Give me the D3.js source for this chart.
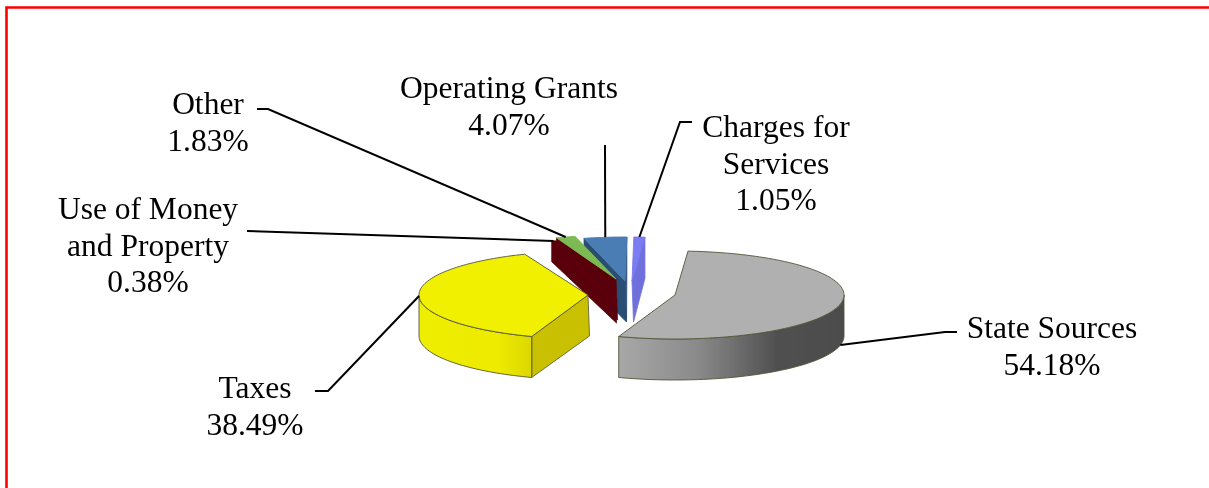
<!DOCTYPE html>
<html><head><meta charset="utf-8">
<script src="https://cdnjs.cloudflare.com/ajax/libs/d3/7.8.5/d3.min.js"></script>
<style>html,body{margin:0;padding:0;background:#fff;overflow:hidden}svg{display:block}</style>
</head><body><svg id="c" width="1209" height="488"></svg>
<script>
// ---- data ----
const categories = ["State Sources","Taxes","Use of Money and Property","Other","Operating Grants","Charges for Services"];
const values = [54.18,38.49,0.38,1.83,4.07,1.05];
const valueLabels = ["54.18%","38.49%","0.38%","1.83%","4.07%","1.05%"];
// ---- style / layout config ----
const labelLines = [["State Sources"],["Taxes"],["Use of Money","and Property"],["Other"],["Operating Grants"],["Charges for","Services"]];
const labelAnchor = [[1052,338],[255,398],[148,219],[208,114],[509,98],[776,137]];
const elbows = [[[945,332],[957,332]],[[328,391],[315,391]],[[247,231]],[[268,109],[257,109]],[[605,145]],[[680,122],[692,122]]];
const topColor = ["#b0b0b0","#f0f000","#5a0008","#7cba52","#4a7db3","#7b7bf2"];
const wallColor = ["#888","#c8c000","#5a0008","#5a0008","#2b4e75","#6f70dc"];
const explodeDx = [50,-37,-10,-9,0,7];
const explodeDy = [10,10,-3,-6,-4,-4];
const wallRimScale = [1,1,0.5,0.5,1,1];
const drawOrder = [5,4,3,2,1,0];
const startDeg = 4.4, depth = 41;
const centre = [625,285];

const svg = d3.select("#c");
const defs = svg.append("defs");
const blur = defs.append("filter").attr("id","soft");
blur.append("feGaussianBlur").attr("stdDeviation",0.55);
const blurT = defs.append("filter").attr("id","softT").attr("x","-5%").attr("y","-5%").attr("width","110%").attr("height","110%");
blurT.append("feGaussianBlur").attr("stdDeviation",0.35);
const g0 = defs.append("linearGradient").attr("id","rim0");
[[0,"#a8a8a8"],[0.35,"#8a8a8a"],[0.7,"#505050"],[1,"#4c4c4c"]].forEach(s=>g0.append("stop").attr("offset",s[0]).attr("stop-color",s[1]));
const g1 = defs.append("linearGradient").attr("id","rim1");
[[0,"#eeee00"],[0.7,"#eeea00"],[1,"#dcd800"]].forEach(s=>g1.append("stop").attr("offset",s[0]).attr("stop-color",s[1]));

// red frame
svg.append("path").attr("d","M6.5,488V7.5H1209").attr("fill","none").attr("stroke","#f00").attr("stroke-width",2.6);

const sx = d3.scaleLinear().domain([-1,1]).range([-169,169]);
const sy = d3.scaleLinear().domain([-1,1]).range([-44,44]);
const pie = d3.pie().sort(null).startAngle(startDeg*Math.PI/180).endAngle((startDeg+360)*Math.PI/180);
const arcs = pie(values);
const cxy = i => [centre[0]+explodeDx[i], centre[1]+explodeDy[i]];
const rimPt = (i,a) => { const c=cxy(i); return [c[0]+sx(Math.sin(a)), c[1]+sy(-Math.cos(a))]; };
const line = d3.line();
const rimPts = (i,a0,a1) => { const n=Math.max(2,Math.ceil((a1-a0)/0.03)); return d3.range(n+1).map(k=>rimPt(i,a0+(a1-a0)*k/n)); };

const pieG = svg.append("g").attr("filter","url(#soft)");
const edge = "#55553a";
drawOrder.forEach(i=>{
  const a=arcs[i], c=cxy(i), g=pieG.append("g");
  const wall=(ang)=>{
    const r=rimPt(i,ang), d2=depth*wallRimScale[i];
    g.append("path").attr("d",line([c,r,[r[0],r[1]+d2],[c[0]+1.5,c[1]+depth]])+"Z")
      .attr("fill",wallColor[i]).attr("stroke",i===1?edge:wallColor[i]).attr("stroke-width",0.8);
  };
  if(Math.sin(a.startAngle)<0) wall(a.startAngle);
  if(Math.sin(a.endAngle)>0) wall(a.endAngle);
  const lo=Math.max(a.startAngle,Math.PI/2), hi=Math.min(a.endAngle,1.5*Math.PI);
  if(hi>lo){
    const top=rimPts(i,lo,hi), bot=top.map(p=>[p[0],p[1]+depth]).reverse();
    g.append("path").attr("d",line(top.concat(bot))+"Z")
      .attr("fill",i===0?"url(#rim0)":i===1?"url(#rim1)":wallColor[i]).attr("stroke",edge).attr("stroke-width",0.9);
  }
  g.append("path").attr("d",line([c].concat(rimPts(i,a.startAngle,a.endAngle)))+"Z")
    .attr("fill",topColor[i]).attr("stroke",i<2?edge:topColor[i]).attr("stroke-width",0.9);
});

// leader lines
arcs.forEach((a,i)=>{
  const mid=(a.startAngle+a.endAngle)/2;
  let p=rimPt(i,mid);
  if(i===0) p=[p[0],p[1]+depth];
  svg.append("path").attr("d",line([p].concat(elbows[i])))
    .attr("fill","none").attr("stroke","#000").attr("stroke-width",2);
});

// labels
const labelG = svg.append("g").attr("filter","url(#softT)");
categories.forEach((c,i)=>{
  const t=labelG.append("text").attr("text-anchor","middle").attr("font-family","'Liberation Serif',serif")
    .attr("font-size",31.5).attr("fill","#000");
  labelLines[i].concat(valueLabels[i]).forEach((s,k)=>{
    t.append("tspan").attr("x",labelAnchor[i][0]).attr("y",labelAnchor[i][1]+k*36.5).text(s);
  });
});
</script></body></html>
